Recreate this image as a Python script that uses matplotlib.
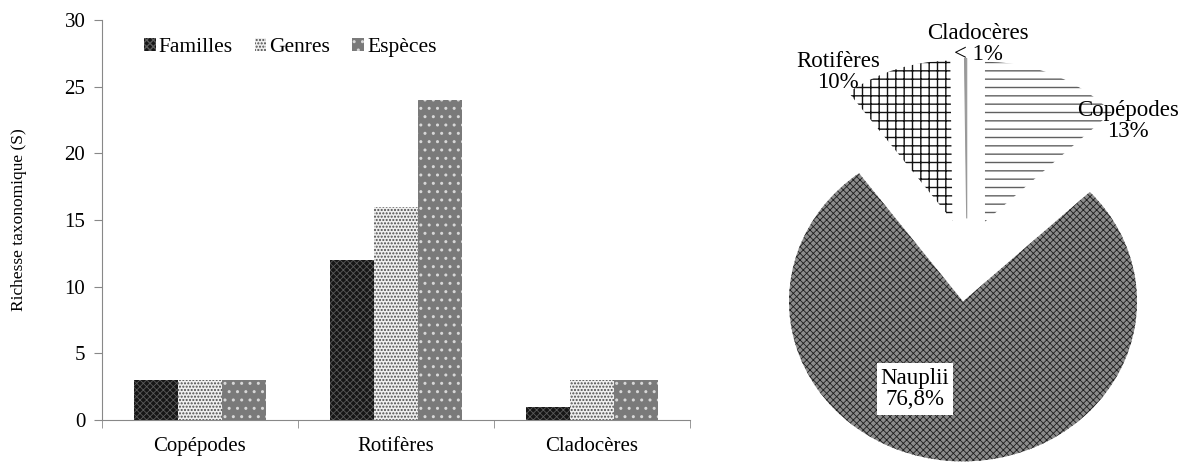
import numpy as np
import matplotlib.pyplot as plt

plt.rcParams['font.family'] = ['Liberation Serif', 'DejaVu Serif']

# bar chart data
groups = ["Copépodes", "Rotifères", "Cladocères"]
familles = [3, 12, 1]
genres = [3, 16, 3]
especes = [3, 24, 3]
series_names = ["Familles", "Genres", "Espèces"]

# pie data (order clockwise from 12 o'clock)
pie_names = ["Copépodes", "Nauplii", "Rotifères", "Cladocères"]
pie_values = [13, 76.8, 10, 0.2]
pie_labels = ["Copépodes\n13%", "Nauplii\n76,8%", "Rotifères\n10%", "Cladocères\n< 1%"]

W, H = 1187, 462
fig = plt.figure(figsize=(W / 100, H / 100), dpi=100)

def fx(px):
    return px / W

def fy(py):
    return 1 - py / H

# ---- bar chart ----
ax = fig.add_axes([fx(102), fy(420), fx(690) - fx(102), fy(20) - fy(420)])
x = np.arange(len(groups))
bw = 0.225
styles = [
    dict(facecolor="#161616", edgecolor="#5a5a5a", hatch="xxxxx", hlw=0.6),
    dict(facecolor="#efefef", edgecolor="#4a4a4a", hatch=".....", hlw=1.0),
    dict(facecolor="#7a7a7a", edgecolor="#d8d8d8", hatch="..", hlw=1.0),
]
for i, (vals, name) in enumerate(zip([familles, genres, especes], series_names)):
    st = dict(styles[i])
    plt.rcParams['hatch.linewidth'] = st.pop("hlw")
    ax.bar(x + (i - 1) * bw, vals, bw, label=name, linewidth=0, **st)

ax.set_xlim(-0.5, 2.5)
ax.set_ylim(0, 30)
ax.set_yticks(np.arange(0, 31, 5))
ax.set_xticks(x)
ax.set_xticklabels(groups, fontsize=15)
ax.set_xticks([-0.5, 0.5, 1.5, 2.5], minor=True)
ax.tick_params(axis="x", which="major", length=0, pad=12)
ax.tick_params(axis="x", which="minor", length=6, color="#888888", direction="out")
ax.tick_params(axis="y", length=6, color="#888888", labelsize=15, pad=6)
for s in ["top", "right"]:
    ax.spines[s].set_visible(False)
for s in ["left", "bottom"]:
    ax.spines[s].set_color("#888888")
ax.set_ylabel("Richesse taxonomique (S)", fontsize=12.5, labelpad=27)
ax.legend(loc="center", bbox_to_anchor=(0.32, 0.932), ncol=3, frameon=False,
          fontsize=15.5, handlelength=0.55, handleheight=0.55,
          handletextpad=0.15, columnspacing=1.0)

# ---- pie chart ----
pax = fig.add_axes([fx(760), 0, 1 - fx(760), 1])
pie_styles = [
    dict(facecolor="white", edgecolor="#606060", hatch="--", hlw=1.0),
    dict(facecolor="#8c8c8c", edgecolor="#1e1e1e", hatch="xxxxx", hlw=0.6),
    dict(facecolor="white", edgecolor="#111111", hatch="++", hlw=1.0),
    dict(facecolor="#999999", edgecolor="#999999", hatch=None, hlw=1.0),
]
wedges, _ = pax.pie(pie_values, startangle=90, counterclock=False,
                    explode=[0.26] * len(pie_values), radius=1,
                    wedgeprops=dict(linewidth=0))
for w, st in zip(wedges, pie_styles):
    w.set_facecolor(st["facecolor"])
    w.set_edgecolor(st["edgecolor"])
    w.set_hatch(st["hatch"])
    w.set_hatch_linewidth(st["hlw"])
wedges[3].set_linewidth(0.8)

pax.set_aspect("auto")
pax.set_xlim((760 - 967) / 174, (1187 - 967) / 174)
pax.set_ylim((260 - 462) / 160, 260 / 160)
pax.axis("off")

label_pos = [(1128, 121), (915, 389), (838, 72), (978, 44)]
for lab, (px, py) in zip(pie_labels, label_pos):
    kw = {}
    if lab.startswith("Nauplii"):
        kw["bbox"] = dict(facecolor="white", edgecolor="none", pad=3)
    fig.text(fx(px), fy(py), lab, fontsize=16.5, ha="center", va="center",
             multialignment="center", linespacing=1.05, **kw)

fig.savefig("out.png", dpi=100)
